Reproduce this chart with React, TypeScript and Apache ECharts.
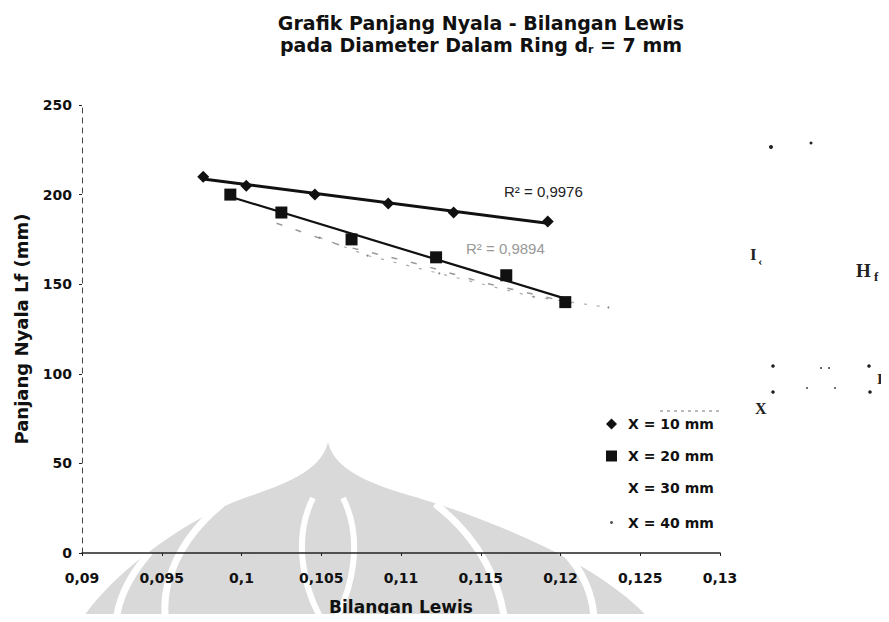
import React, { useEffect, useRef } from "react";
import * as echarts from "echarts";

// ---- data ----
const xLewis10 = [0.0976, 0.1003, 0.1046, 0.1092, 0.1133, 0.1192];
const lf10 = [210, 205, 200, 195, 190, 185];
const xLewis20 = [0.0993, 0.1025, 0.1069, 0.1122, 0.1166, 0.1203];
const lf20 = [200, 190, 175, 165, 155, 140];
const xLewis30 = [0.1022, 0.1061, 0.1112, 0.1151, 0.1214];
const lf30 = [184, 172, 161, 151, 138];
const xLewis40 = [0.1049, 0.1079, 0.1124, 0.1183, 0.123];
const lf40 = [176, 166, 156, 143, 137];
const seriesNames = ["X = 10 mm", "X = 20 mm", "X = 30 mm", "X = 40 mm"];
const r2Labels = ["R² = 0,9976", "R² = 0,9894"];

const pair = (xs: number[], ys: number[]) => xs.map((x, i) => [x, ys[i]]);

// least-squares linear trendline spanning the data's x range (like a spreadsheet trendline)
function trend(xs: number[], ys: number[]) {
  const n = xs.length;
  const mx = xs.reduce((a, b) => a + b, 0) / n;
  const my = ys.reduce((a, b) => a + b, 0) / n;
  let sxy = 0;
  let sxx = 0;
  for (let i = 0; i < n; i++) {
    sxy += (xs[i] - mx) * (ys[i] - my);
    sxx += (xs[i] - mx) * (xs[i] - mx);
  }
  const b = sxy / sxx;
  const a = my - b * mx;
  const x0 = Math.min(...xs);
  const x1 = Math.max(...xs);
  return [
    [x0, a + b * x0],
    [x1, a + b * x1],
  ];
}

const FONT = "'DejaVu Sans', Arial, sans-serif";

let registered = false;
function registerShapes() {
  if (registered) return;
  registered = true;
  const d =
    "M328,442 C334,468 365,482 405,494 C475,514 600,560 652,622 L 80,622 C 110,575 185,518 250,496 C 292,482 322,468 328,442 Z";
  echarts.graphic.registerShape("makara", echarts.graphic.extendPath(d, {}) as any);
}

export default function App() {
  const ref = useRef<HTMLDivElement>(null);
  useEffect(() => {
    if (!ref.current) return;
    registerShapes();
    const chart = echarts.init(ref.current, null, { renderer: "svg" });
    const band = (x1: number, y1: number, c1x: number, c1y: number, c2x: number, c2y: number, x2: number, y2: number, w = 7) => ({
      type: "bezierCurve",
      z: -9,
      silent: true,
      shape: { x1, y1, cpx1: c1x, cpy1: c1y, cpx2: c2x, cpy2: c2y, x2, y2 },
      style: { stroke: "#ffffff", lineWidth: w, fill: "none" },
    });
    const dot = (x: number, y: number, r = 2) => ({
      type: "circle",
      silent: true,
      shape: { cx: x, cy: y, r },
      style: { fill: "#222" },
    });
    const serifText = (left: number, top: number, text: string, size: number) => ({
      type: "text",
      left,
      top,
      silent: true,
      style: { text, fontFamily: "'Liberation Serif', serif", fontWeight: "bold", fontSize: size, fill: "#222" },
    });
    const option: any = {
      animation: false,
      backgroundColor: "#ffffff",
      title: {
        text: "Grafik Panjang Nyala - Bilangan Lewis\npada Diameter Dalam Ring d{sub|r} = 7 mm",
        left: 476,
        top: 7,
        textAlign: "center",
        textStyle: {
          fontFamily: FONT,
          fontWeight: "bold",
          fontSize: 19,
          color: "#111",
          lineHeight: 22,
          rich: {
            sub: { fontFamily: FONT, fontWeight: "bold", fontSize: 11, color: "#111", padding: [8, 0, 0, 0] },
          },
        },
      },
      grid: { left: 82, right: 169, top: 105, bottom: 69, containLabel: false, outerBoundsMode: "none" },
      legend: {
        orient: "vertical",
        left: 597,
        top: 412,
        itemGap: 18,
        itemWidth: 11,
        itemHeight: 11,
        textStyle: { fontFamily: FONT, fontWeight: "bold", fontSize: 14, color: "#111", padding: [0, 0, 0, 6] },
        data: [
          { name: seriesNames[0], icon: "diamond", itemStyle: { color: "#111", opacity: 1 } },
          { name: seriesNames[1], icon: "rect", itemStyle: { color: "#111", opacity: 1 } },
          { name: seriesNames[2], icon: "circle", itemStyle: { opacity: 0 } },
          { name: seriesNames[3], icon: "circle", itemStyle: { color: "#555", borderColor: "#fff", borderWidth: 8 } },
        ],
      },
      xAxis: {
        type: "value",
        min: 0.09,
        max: 0.13,
        interval: 0.005,
        name: "Bilangan Lewis",
        nameLocation: "middle",
        nameGap: 45,
        nameTextStyle: { fontFamily: FONT, fontWeight: "bold", fontSize: 17, color: "#111" },
        axisLine: { lineStyle: { color: "#222", width: 1.5 } },
        axisTick: { show: true, length: 3, lineStyle: { color: "#222" } },
        axisLabel: {
          margin: 18,
          fontFamily: FONT,
          fontWeight: "bold",
          fontSize: 14,
          color: "#111",
          formatter: (v: number) => String(Number(v.toFixed(3))).replace(".", ","),
        },
        splitLine: { show: false },
      },
      yAxis: {
        type: "value",
        min: 0,
        max: 250,
        interval: 50,
        name: "Panjang Nyala Lf (mm)",
        nameLocation: "middle",
        nameGap: 52,
        nameTextStyle: { fontFamily: FONT, fontWeight: "bold", fontSize: 18, color: "#111" },
        axisLine: { show: true, lineStyle: { color: "#444", width: 1, type: [5, 5] } },
        axisTick: { show: true, length: 3, lineStyle: { color: "#222" } },
        axisLabel: { margin: 10, fontFamily: FONT, fontWeight: "bold", fontSize: 14, color: "#111" },
        splitLine: { show: false },
      },
      series: [
        {
          name: seriesNames[0],
          type: "scatter",
          data: pair(xLewis10, lf10),
          symbol: "diamond",
          symbolSize: 12,
          itemStyle: { color: "#111", opacity: 1 },
          z: 6,
        },
        {
          name: seriesNames[1],
          type: "scatter",
          data: pair(xLewis20, lf20),
          symbol: "rect",
          symbolSize: 12,
          itemStyle: { color: "#111", opacity: 1 },
          z: 6,
        },
        {
          name: seriesNames[2],
          type: "line",
          data: pair(xLewis30, lf30),
          symbol: "none",
          itemStyle: { color: "#999" },
          lineStyle: { color: "#9a9a9a", width: 1.5, type: [6, 14] },
          z: 4,
        },
        {
          name: seriesNames[3],
          type: "line",
          data: pair(xLewis40, lf40),
          symbol: "circle",
          symbolSize: 2,
          itemStyle: { color: "#888" },
          lineStyle: { color: "#aaaaaa", width: 1.2, type: [3, 10] },
          z: 4,
        },
        {
          name: "trend10",
          type: "line",
          data: trend(xLewis10, lf10),
          symbol: "none",
          lineStyle: { color: "#111", width: 3 },
          z: 5,
        },
        {
          name: "trend20",
          type: "line",
          data: trend(xLewis20, lf20),
          symbol: "none",
          lineStyle: { color: "#111", width: 2.2 },
          z: 5,
        },
      ],
      graphic: [
        // watermark (faint logo)
        { type: "makara", z: -10, silent: true, x: 0, y: 0, style: { fill: "#d9d9d9" } },
        band(222, 504, 178, 540, 160, 585, 166, 622),
        band(150, 552, 130, 575, 118, 600, 116, 622),
        band(435, 504, 482, 540, 500, 585, 505, 622),
        band(560, 548, 585, 570, 594, 600, 594, 622),
        band(313, 498, 292, 540, 304, 590, 323, 622, 6),
        band(343, 498, 364, 540, 352, 590, 334, 622, 6),
        // trend-line R² labels
        {
          type: "text",
          left: 504,
          top: 184,
          style: { text: r2Labels[0], fontFamily: "'Liberation Sans', Arial, sans-serif", fontSize: 15, fill: "#222" },
        },
        {
          type: "text",
          left: 466,
          top: 241,
          style: { text: r2Labels[1], fontFamily: "'Liberation Sans', Arial, sans-serif", fontSize: 15, fill: "#999" },
        },
        // bleed-through from neighbouring figure on the right
        dot(771, 147, 2),
        dot(811, 143, 1.5),
        serifText(750, 246, "I", 17),
        serifText(758, 254, "‹", 13),
        serifText(856, 261, "H", 19),
        serifText(874, 270, "f", 13),
        serifText(755, 400, "X", 16),
        serifText(877, 371, "I", 15),
        dot(773, 366, 1.8),
        dot(773, 392, 1.8),
        dot(869, 366, 1.8),
        dot(870, 392, 1.8),
        dot(821, 368, 0.9),
        dot(829, 368, 0.9),
        dot(807, 388, 0.8),
        dot(835, 388, 0.8),
        {
          type: "line",
          silent: true,
          shape: { x1: 660, y1: 411, x2: 722, y2: 411 },
          style: { stroke: "#777", lineWidth: 1, lineDash: [3, 4] },
        },
      ],
    };
    chart.setOption(option);
    return () => chart.dispose();
  }, []);
  return <div ref={ref} style={{ width: 889, height: 622, margin: -8 }} />;
}
